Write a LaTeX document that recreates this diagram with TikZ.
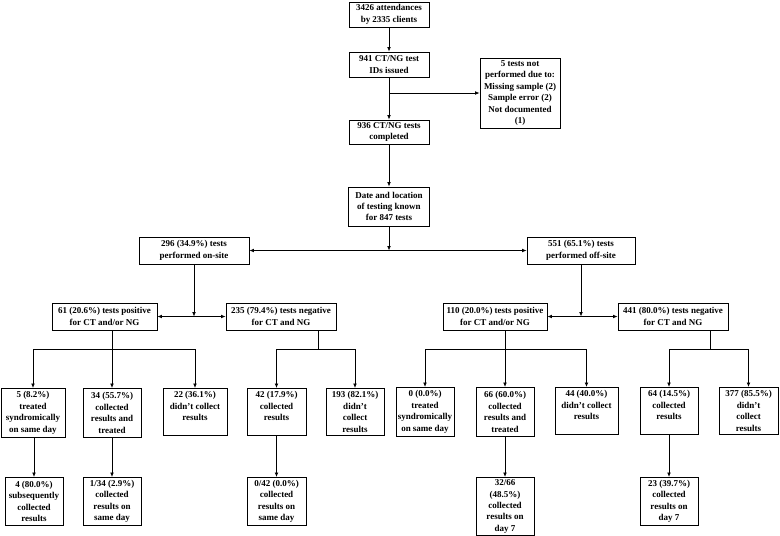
\documentclass[tikz,border=0pt]{standalone}
\usepackage{fontspec}
\setmainfont{Liberation Serif}
\usetikzlibrary{arrows.meta}

\begin{document}
\begin{tikzpicture}[x=1pt, y=-1pt,
  box/.style={draw, line width=0.8pt, align=center, inner sep=1pt,
    font=\bfseries\fontsize{9}{11.4}\selectfont},
  leaf/.style={box, anchor=north, minimum height=49},
  arr/.style={-{Latex[length=4.5pt,width=3.8pt]}, line width=0.8pt},
  link/.style={line width=0.8pt}]
  \useasboundingbox (0,0) rectangle (780,536);

  % Top of the flow
  \node[box, minimum width=80, minimum height=25] (attend) at (389,14.5) {3426 attendances\\by 2335 clients};
  \node[box, minimum width=80, minimum height=25] (issued) at (389,64.5) {941 CT/NG test\\IDs issued};
  \node[box, minimum width=80, minimum height=70] (notperf) at (520,93) {5 tests not\\performed due to:\\Missing sample (2)\\Sample error (2)\\Not documented\\(1)};
  \node[box, minimum width=80, minimum height=24] (completed) at (389,132) {936 CT/NG tests\\completed};
  \node[box, minimum width=81, minimum height=39] (known) at (389,206.5) {Date and location\\of testing known\\for 847 tests};

  \draw[arr] (attend) -- (issued);
  \draw[arr] (issued) -- (completed);
  \coordinate (excl) at (389,93);
  \draw[arr] (excl) -- (notperf.west);
  \draw[arr] (completed) -- (known);

  % On-site / off-site split
  \node[box, minimum width=110, minimum height=27] (onsite) at (194,250.5) {296 (34.9\%) tests\\performed on-site};
  \node[box, minimum width=108, minimum height=27] (offsite) at (581,250.5) {551 (65.1\%) tests\\performed off-site};
  \coordinate (site) at (389,250.5);
  \draw[arr] (known) -- (site);
  \draw[arr] (site) -- (onsite.east);
  \draw[arr] (site) -- (offsite.west);

  % Test results
  \node[box, minimum width=105, minimum height=27] (pos1) at (104.5,316.5) {61 (20.6\%) tests positive\\for CT and/or NG};
  \node[box, minimum width=110, minimum height=27] (neg1) at (281,316.5) {235 (79.4\%) tests negative\\for CT and NG};
  \node[box, minimum width=104, minimum height=27] (pos2) at (495,316.5) {110 (20.0\%) tests positive\\for CT and/or NG};
  \node[box, minimum width=110, minimum height=27] (neg2) at (673,316.5) {441 (80.0\%) tests negative\\for CT and NG};

  \coordinate (onres) at (194,316.5);
  \coordinate (offres) at (581,316.5);
  \draw[arr] (onsite) -- (onres);
  \draw[arr] (onres) -- (pos1.east);
  \draw[arr] (onres) -- (neg1.west);
  \draw[arr] (offsite) -- (offres);
  \draw[arr] (offres) -- (pos2.east);
  \draw[arr] (offres) -- (neg2.west);

  % Outcomes
  \node[leaf, minimum width=64] (L1) at (33,388) {5 (8.2\%)\\treated\\syndromically\\on same day};
  \node[leaf, minimum width=58] (L2) at (112,388) {34 (55.7\%)\\collected\\results and\\treated};
  \node[leaf, minimum width=64, minimum height=47] (L3) at (195,388) {22 (36.1\%)\\didn’t collect\\results\\~};
  \node[leaf, minimum width=59, minimum height=47] (L4) at (276.5,388) {42 (17.9\%)\\collected\\results\\~};
  \node[leaf, minimum width=58, minimum height=47] (L5) at (355,388) {193 (82.1\%)\\didn’t\\collect\\results};
  \node[leaf, minimum width=58] (R1) at (425,387) {0 (0.0\%)\\treated\\syndromically\\on same day};
  \node[leaf, minimum width=58] (R2) at (505,387) {66 (60.0\%)\\collected\\results and\\treated};
  \node[leaf, minimum width=63, minimum height=47] (R3) at (586.5,387) {44 (40.0\%)\\didn’t collect\\results\\~};
  \node[leaf, minimum width=58, minimum height=47] (R4) at (669,387) {64 (14.5\%)\\collected\\results\\~};
  \node[leaf, minimum width=59, minimum height=47] (R5) at (748.5,387) {377 (85.5\%)\\didn’t\\collect\\results};

  \coordinate (p1) at (112,349);
  \coordinate (n1) at (318,349);
  \coordinate (p2) at (505,349);
  \coordinate (n2) at (710,349);
  \draw[link] (pos1.south -| p1) -- (p1);
  \draw[arr] (p1) -| (L1.north);
  \draw[arr] (p1) -- (L2.north);
  \draw[arr] (p1) -| (L3.north);
  \draw[link] (neg1.south -| n1) -- (n1);
  \draw[arr] (n1) -| (L4.north);
  \draw[arr] (n1) -| (L5.north);
  \draw[link] (pos2.south -| p2) -- (p2);
  \draw[arr] (p2) -| (R1.north);
  \draw[arr] (p2) -- (R2.north);
  \draw[arr] (p2) -| (R3.north);
  \draw[link] (neg2.south -| n2) -- (n2);
  \draw[arr] (n2) -| (R4.north);
  \draw[arr] (n2) -| (R5.north);

  % Follow-up
  \node[leaf, minimum width=58, minimum height=48] (B1) at (34,477) {4 (80.0\%)\\subsequently\\collected\\results};
  \node[leaf, minimum width=58, minimum height=48] (B2) at (112,477) {1/34 (2.9\%)\\collected\\results on\\same day};
  \node[leaf, minimum width=59, minimum height=48] (B3) at (276.5,477) {0/42 (0.0\%)\\collected\\results on\\same day};
  \node[leaf, minimum width=58, minimum height=58] (B4) at (505,477) {32/66\\(48.5\%)\\collected\\results on\\day 7};
  \node[leaf, minimum width=58, minimum height=48] (B5) at (669,477) {23 (39.7\%)\\collected\\results on\\day 7};

  \draw[arr] (L1.south -| B1) -- (B1.north);
  \draw[arr] (L2) -- (B2);
  \draw[arr] (L4) -- (B3);
  \draw[arr] (R2) -- (B4);
  \draw[arr] (R4) -- (B5);
\end{tikzpicture}
\end{document}
